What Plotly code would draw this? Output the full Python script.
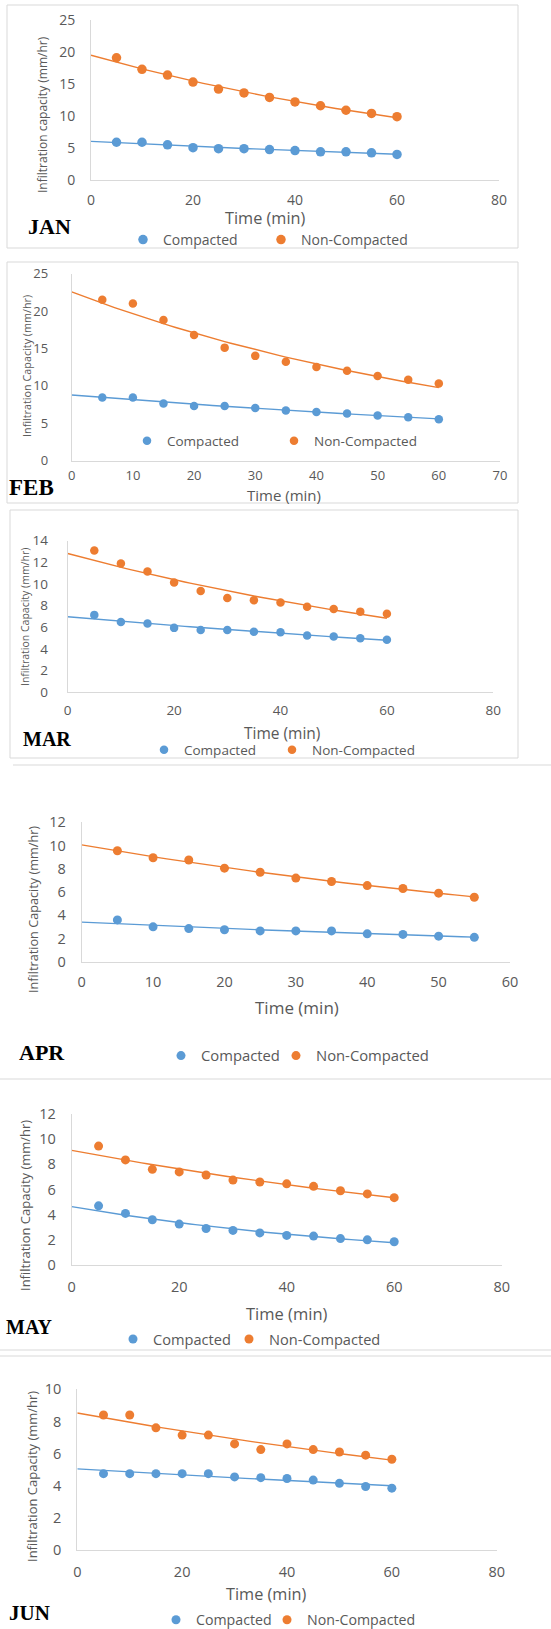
import numpy as np
import plotly.graph_objects as go

W, H = 551, 1629

# ---------------- data ----------------
months = ["JAN", "FEB", "MAR", "APR", "MAY", "JUN"]
series_names = ["Compacted", "Non-Compacted"]

time_60 = [5, 10, 15, 20, 25, 30, 35, 40, 45, 50, 55, 60]
time_55 = [5, 10, 15, 20, 25, 30, 35, 40, 45, 50, 55]

jan_compacted = [5.9, 5.9, 5.5, 5.05, 4.9, 4.9, 4.75, 4.6, 4.4, 4.4, 4.25, 4.0]
jan_noncompacted = [19.1, 17.3, 16.4, 15.3, 14.2, 13.6, 12.9, 12.2, 11.6, 10.9, 10.4, 9.9]

feb_compacted = [8.45, 8.45, 7.65, 7.3, 7.3, 7.05, 6.7, 6.5, 6.3, 6.05, 5.8, 5.55]
feb_noncompacted = [21.5, 21.0, 18.8, 16.8, 15.1, 14.0, 13.2, 12.5, 12.0, 11.3, 10.8, 10.3]

mar_compacted = [7.15, 6.5, 6.35, 5.95, 5.75, 5.75, 5.6, 5.55, 5.25, 5.15, 5.0, 4.85]
mar_noncompacted = [13.1, 11.9, 11.15, 10.15, 9.35, 8.7, 8.5, 8.3, 7.9, 7.7, 7.45, 7.25]

apr_compacted = [3.6, 3.0, 2.85, 2.75, 2.65, 2.65, 2.65, 2.4, 2.35, 2.2, 2.1]
apr_noncompacted = [9.55, 8.95, 8.75, 8.05, 7.7, 7.2, 6.9, 6.55, 6.3, 5.9, 5.55]

may_compacted = [4.7, 4.1, 3.6, 3.25, 2.9, 2.75, 2.55, 2.35, 2.3, 2.1, 2.0, 1.85]
may_noncompacted = [9.45, 8.35, 7.6, 7.4, 7.15, 6.75, 6.6, 6.45, 6.25, 5.9, 5.65, 5.35]

jun_compacted = [4.75, 4.75, 4.75, 4.75, 4.75, 4.55, 4.5, 4.45, 4.35, 4.15, 3.95, 3.85]
jun_noncompacted = [8.4, 8.4, 7.6, 7.15, 7.15, 6.6, 6.25, 6.6, 6.25, 6.1, 5.9, 5.65]

y_titles = ["Infiltration capacity (mm/hr)", "Infiltration Capacity (mm/hr)",
            "Infiltration Capacity (mm/hr)", "Infiltration Capacity (mm/hr)",
            "Infiltration Capacity (mm/hr)", "Infiltration Capacity (mm/hr)"]
x_title = "Time (min)"

data = [
    (time_60, jan_compacted, jan_noncompacted),
    (time_60, feb_compacted, feb_noncompacted),
    (time_60, mar_compacted, mar_noncompacted),
    (time_55, apr_compacted, apr_noncompacted),
    (time_60, may_compacted, may_noncompacted),
    (time_60, jun_compacted, jun_noncompacted),
]

# ---------------- layout / style (pixels) ----------------
COLORS = ["#5B9BD5", "#ED7D31"]
TXT = "#595959"
AX = "#D9D9D9"
FONT = "Open Sans"
LEG_TEXT_OFFSET = 36   # px from legend left edge to start of its text

panels = [
    dict(x0=91, x1=499, yt=20, yb=180, xmax=80, xd=20, ymax=25, yd=5,
         tick=14, xt=16.3, yt_f=12, leg=14, ms=9.5,
         xtl=(265, 218), ytl=(42, 115), mon=(26, 227, 22),
         legtx=(159, 297), legy=240, xpad=7, ypad=12),
    dict(x0=71.7, x1=500, yt=273.5, yb=460.7, xmax=70, xd=10, ymax=25, yd=5,
         tick=13, xt=15, yt_f=10.8, leg=13.5, ms=8.5,
         xtl=(284, 495), ytl=(27, 366), mon=(7, 487, 23),
         legtx=(163, 310), legy=441, xpad=3, ypad=20),
    dict(x0=67.7, x1=493.3, yt=540.7, yb=692.3, xmax=80, xd=20, ymax=14, yd=2,
         tick=13.5, xt=15.5, yt_f=10.5, leg=13.5, ms=8.5,
         xtl=(282, 733), ytl=(25, 617), mon=(21, 739, 20),
         legtx=(180, 308), legy=750, xpad=5, ypad=16),
    dict(x0=81.7, x1=510, yt=822.3, yb=961.7, xmax=60, xd=10, ymax=12, yd=2,
         tick=14.5, xt=17, yt_f=12.7, leg=14.8, ms=9,
         xtl=(297, 1007), ytl=(33, 910), mon=(17, 1052, 22),
         legtx=(197, 312), legy=1056, xpad=7, ypad=12),
    dict(x0=71.7, x1=501.7, yt=1114, yb=1265, xmax=80, xd=20, ymax=12, yd=2,
         tick=14.5, xt=16.5, yt_f=13, leg=14.6, ms=9,
         xtl=(287, 1313), ytl=(25, 1206), mon=(4, 1327, 20),
         legtx=(149, 265), legy=1339, xpad=9, ypad=12),
    dict(x0=77.3, x1=496.7, yt=1389.3, yb=1550, xmax=80, xd=20, ymax=10, yd=2,
         tick=14.5, xt=16.3, yt_f=13, leg=14.2, ms=9,
         xtl=(266, 1594), ytl=(32, 1477), mon=(7, 1613, 21),
         legtx=(192, 303), legy=1620, xpad=9, ypad=12),
]


def px(x):
    return x / W


def py(y):
    return 1 - y / H


fig = go.Figure()
layout = dict(width=W, height=H,
              margin=dict(l=0, r=0, t=0, b=0, pad=0, autoexpand=False),
              paper_bgcolor="white", plot_bgcolor="white",
              font=dict(family=FONT, color=TXT), annotations=[], shapes=[])

leg_count = 0
for i, (p, (t, comp, non), month) in enumerate(zip(panels, data, months)):
    n = i + 1
    xa = "x" if n == 1 else f"x{n}"
    ya = "y" if n == 1 else f"y{n}"
    sfx = "" if n == 1 else str(n)

    tt = np.array(t, dtype=float)
    for s, vals in enumerate([comp, non]):
        leg_count += 1
        leg = "legend" if leg_count == 1 else f"legend{leg_count}"
        fig.add_trace(go.Scatter(
            x=t, y=vals, mode="markers", name=series_names[s],
            marker=dict(color=COLORS[s], size=p["ms"]),
            xaxis=xa, yaxis=ya, legend=leg, showlegend=True))
        layout[leg] = dict(
            orientation="h", x=px(p["legtx"][s] - LEG_TEXT_OFFSET),
            y=py(p["legy"]), xanchor="left", yanchor="middle",
            bgcolor="rgba(0,0,0,0)", borderwidth=0,
            font=dict(size=p["leg"], color=TXT, family=FONT),
            itemwidth=30)
    for s, vals in enumerate([comp, non]):
        # exponential trendline (least squares on log values), forecast back to 0
        b, a = np.polyfit(tt, np.log(np.array(vals, dtype=float)), 1)
        xs = np.linspace(0, tt.max(), 61)
        fig.add_trace(go.Scatter(
            x=xs, y=np.exp(a) * np.exp(b * xs), mode="lines",
            line=dict(color=COLORS[s], width=1.4),
            xaxis=xa, yaxis=ya, showlegend=False, hoverinfo="skip"))

    layout["xaxis" + sfx] = dict(
        domain=[px(p["x0"]), px(p["x1"])], anchor=ya, range=[0, p["xmax"]],
        dtick=p["xd"], tick0=0, showgrid=False, zeroline=False,
        showline=True, linecolor=AX, linewidth=1, automargin=False,
        ticks="outside", ticklen=p["xpad"], tickcolor="rgba(0,0,0,0)",
        tickfont=dict(size=p["tick"], color=TXT, family=FONT))
    layout["yaxis" + sfx] = dict(
        domain=[py(p["yb"]), py(p["yt"])], anchor=xa, range=[0, p["ymax"]],
        dtick=p["yd"], tick0=0, showgrid=False, zeroline=False,
        showline=True, linecolor=AX, linewidth=1, automargin=False,
        ticks="outside", ticklen=p["ypad"], tickcolor="rgba(0,0,0,0)",
        tickfont=dict(size=p["tick"], color=TXT, family=FONT))

    layout["annotations"] += [
        dict(text=x_title, x=px(p["xtl"][0]), y=py(p["xtl"][1]),
             xref="paper", yref="paper", showarrow=False,
             xanchor="center", yanchor="middle",
             font=dict(size=p["xt"], color=TXT, family=FONT)),
        dict(text=y_titles[i], x=px(p["ytl"][0]), y=py(p["ytl"][1]),
             xref="paper", yref="paper", showarrow=False, textangle=-90,
             xanchor="center", yanchor="middle",
             font=dict(size=p["yt_f"], color=TXT, family=FONT)),
        dict(text=f"<b>{month}</b>", x=px(p["mon"][0]), y=py(p["mon"][1]),
             xref="paper", yref="paper", showarrow=False,
             xanchor="left", yanchor="middle",
             font=dict(size=p["mon"][2], color="black",
                       family="Liberation Serif")),
    ]

# panel frames and separators
FR = "#D9D9D9"
for (x0, y0, x1, y1) in [(7, 5, 518, 248), (7, 262, 518, 503), (10, 510, 518, 758)]:
    layout["shapes"].append(dict(type="rect", xref="paper", yref="paper",
                                 x0=px(x0), x1=px(x1), y0=py(y0), y1=py(y1),
                                 line=dict(color=FR, width=1)))
for (x0, x1, y) in [(13, 551, 765), (0, 551, 1079), (0, 551, 1350), (0, 551, 1356)]:
    layout["shapes"].append(dict(type="line", xref="paper", yref="paper",
                                 x0=px(x0), x1=px(x1), y0=py(y), y1=py(y),
                                 line=dict(color=FR, width=1)))

fig.update_layout(**layout)
fig.write_html("out.html", config={"displayModeBar": False},
               post_script="document.body.style.margin='0';"
                           "document.body.style.overflow='hidden';")
